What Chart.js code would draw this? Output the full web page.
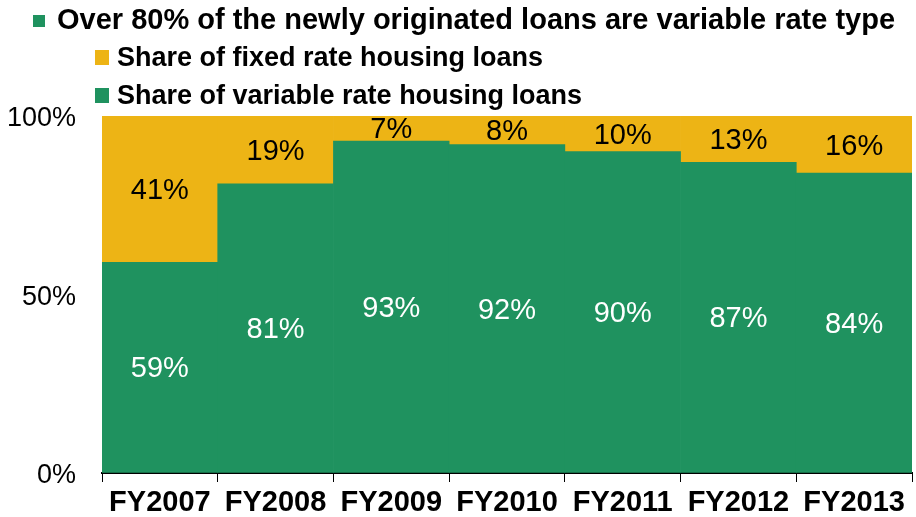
<!DOCTYPE html>
<html>
<head>
<meta charset="utf-8">
<script src="https://cdn.jsdelivr.net/npm/chart.js@4/dist/chart.umd.min.js"></script>
<style>
  html, body { margin: 0; padding: 0; background: #fff; }
  #wrap { width: 916px; height: 517px; position: relative; }
</style>
</head>
<body>
<div id="wrap"><canvas id="chart"></canvas></div>
<script>
// Fiscal years on the horizontal axis
const categories = ['FY2007', 'FY2008', 'FY2009', 'FY2010', 'FY2011', 'FY2012', 'FY2013'];
// Shares of newly originated housing loans (%)
const fixedShare = [41, 19, 7, 8, 10, 13, 16];
const variableShare = [59, 81, 93, 92, 90, 87, 84];
// Value axis ticks (%)
const yTicks = [0, 50, 100];

const headline = 'Over 80% of the newly originated loans are variable rate type';
const GREEN = '#1F925F';
const YELLOW = '#EDB415';
const FONT = '"Liberation Sans", Arial, sans-serif';

// Headline with bullet and the two-row key above the plot
const headerPlugin = {
  id: 'header',
  afterDraw(chart) {
    const ctx = chart.ctx;
    ctx.save();
    ctx.textBaseline = 'alphabetic';
    ctx.textAlign = 'left';
    // headline
    ctx.fillStyle = GREEN;
    ctx.fillRect(33, 15, 12, 12);
    ctx.fillStyle = '#000';
    ctx.font = 'bold 29px ' + FONT;
    ctx.fillText(headline, 57, 29);
    // key rows, fixed first then variable
    const rows = [
      { ds: chart.data.datasets[1], y: 50, base: 66 },
      { ds: chart.data.datasets[0], y: 88, base: 104 }
    ];
    ctx.font = 'bold 27px ' + FONT;
    rows.forEach(r => {
      ctx.fillStyle = r.ds.backgroundColor;
      ctx.fillRect(95, r.y, 14, 15);
      ctx.fillStyle = '#000';
      ctx.fillText(r.ds.label, 117, r.base);
    });
    ctx.restore();
  }
};

// Value labels centred in each bar segment
const valueLabels = {
  id: 'valueLabels',
  afterDatasetsDraw(chart) {
    const ctx = chart.ctx;
    ctx.save();
    ctx.font = '29px ' + FONT;
    ctx.textAlign = 'center';
    ctx.textBaseline = 'middle';
    chart.data.datasets.forEach((ds, i) => {
      const meta = chart.getDatasetMeta(i);
      ctx.fillStyle = ds.labelColor;
      meta.data.forEach((bar, j) => {
        const p = bar.getCenterPoint();
        ctx.fillText(ds.data[j] + '%', p.x, p.y + 2);
      });
    });
    ctx.restore();
  }
};

new Chart(document.getElementById('chart'), {
  type: 'bar',
  data: {
    labels: categories,
    datasets: [
      {
        label: 'Share of variable rate housing loans',
        data: variableShare,
        backgroundColor: GREEN,
        labelColor: '#fff',
        borderWidth: 0,
        barPercentage: 1,
        categoryPercentage: 1
      },
      {
        label: 'Share of fixed rate housing loans',
        data: fixedShare,
        backgroundColor: YELLOW,
        labelColor: '#000',
        borderWidth: 0,
        barPercentage: 1,
        categoryPercentage: 1
      }
    ]
  },
  options: {
    responsive: true,
    maintainAspectRatio: false,
    animation: false,
    layout: { padding: { top: 116, right: 4, left: 0, bottom: 0 } },
    plugins: {
      legend: { display: false },
      title: { display: false },
      tooltip: { enabled: false }
    },
    scales: {
      x: {
        stacked: true,
        grid: {
          offset: true,
          drawOnChartArea: false,
          drawTicks: true,
          tickLength: 9,
          color: '#000',
          lineWidth: 1
        },
        border: { display: true, color: '#000', width: 2 },
        ticks: {
          color: '#000',
          font: { family: FONT, size: 29, weight: 'bold' },
          padding: 4,
          maxRotation: 0,
          autoSkip: false
        },
        afterFit(scale) { scale.height = 44; }
      },
      y: {
        stacked: true,
        min: 0,
        max: 100,
        afterBuildTicks(scale) { scale.ticks = yTicks.map(v => ({ value: v })); },
        grid: { drawOnChartArea: false, drawTicks: false },
        border: { display: true, color: '#000', width: 1 },
        ticks: {
          color: '#000',
          font: { family: FONT, size: 27 },
          padding: 26,
          labelOffset: 3,
          callback: v => v + '%'
        },
        afterFit(scale) { scale.width = 102; }
      }
    }
  },
  plugins: [headerPlugin, valueLabels]
});
</script>
</body>
</html>
